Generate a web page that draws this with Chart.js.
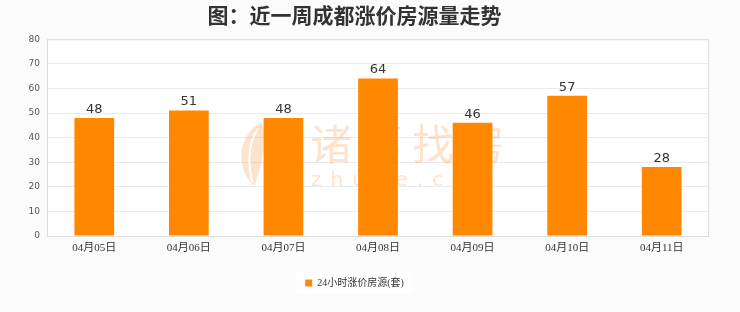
<!DOCTYPE html>
<html>
<head>
<meta charset="utf-8">
<script src="https://cdn.jsdelivr.net/npm/chart.js@4/dist/chart.umd.min.js"></script>
<style>
  html, body { margin: 0; padding: 0; background: #fbfbfb; }
  #wrap { width: 740px; height: 312px; }
</style>
</head>
<body>
<div id="wrap"><canvas id="c" width="740" height="312"></canvas></div>
<script>
// Daily count of listings with price increases, Chengdu, last week
const categories = ['04月05日', '04月06日', '04月07日', '04月08日', '04月09日', '04月10日', '04月11日'];
const risingListings = [48, 51, 48, 64, 46, 57, 28];
const seriesName = '24小时涨价房源(套)';
const chartTitle = '图：近一周成都涨价房源量走势';
const yMax = 80;
const yStep = 10;

const BAR = '#ff8800';
const MARK = 'rgba(244, 170, 105, 0.33)';

// white plot area with a light frame, faint brand mark behind the bars
const plotFrame = {
  id: 'plotFrame',
  beforeDraw(chart) {
    const { ctx, chartArea: a } = chart;
    ctx.save();
    ctx.fillStyle = '#ffffff';
    ctx.fillRect(a.left, a.top, a.right - a.left, a.bottom - a.top);
    // white strip behind the legend
    const lg = chart.legend;
    if (lg) ctx.fillRect(lg.left + lg.width / 2 - 58, lg.top + 4, 116, lg.height - 8);
    ctx.restore();
  },
  beforeDatasetsDraw(chart) {
    const { ctx } = chart;
    ctx.save();
    ctx.fillStyle = MARK;
    // feather emblem
    ctx.beginPath();
    ctx.moveTo(262, 122);
    ctx.bezierCurveTo(236, 135, 236, 170, 254, 186);
    ctx.bezierCurveTo(262, 170, 266, 140, 262, 122);
    ctx.fill();
    ctx.strokeStyle = 'rgba(255,255,255,0.8)';
    ctx.lineWidth = 1.5;
    for (let k = 0; k < 4; k++) {
      ctx.beginPath();
      ctx.moveTo(258 - k * 2, 128 + k * 4);
      ctx.quadraticCurveTo(244 + k, 152, 252, 182);
      ctx.stroke();
    }
    ctx.textAlign = 'left';
    ctx.textBaseline = 'middle';
    ctx.font = '42px "Noto Sans CJK SC"';
    ctx.letterSpacing = '9px';
    ctx.fillText('诸葛找房', 310, 144);
    ctx.font = '20px "DejaVu Sans"';
    ctx.letterSpacing = '9px';
    ctx.fillText('zhuge.com', 311, 181);
    ctx.restore();
  },
  afterDatasetsDraw(chart) {
    const { ctx, chartArea: a } = chart;
    ctx.save();
    ctx.strokeStyle = '#dddddd';
    ctx.lineWidth = 1;
    ctx.strokeRect(a.left + 0.5, a.top + 0.5, a.right - a.left - 1, a.bottom - a.top);
    // value labels above each bar
    const meta = chart.getDatasetMeta(0);
    ctx.fillStyle = '#333333';
    ctx.font = '13px "DejaVu Sans"';
    ctx.textAlign = 'center';
    ctx.textBaseline = 'bottom';
    meta.data.forEach((bar, i) => {
      ctx.fillText(String(risingListings[i]), bar.x, bar.y - 2);
    });
    ctx.restore();
  }
};

new Chart(document.getElementById('c'), {
  type: 'bar',
  data: {
    labels: categories,
    datasets: [{
      label: seriesName,
      data: risingListings,
      backgroundColor: BAR,
      borderWidth: 0,
      categoryPercentage: 1,
      barPercentage: 0.42
    }]
  },
  options: {
    responsive: false,
    animation: false,
    devicePixelRatio: 1,
    layout: { padding: { left: 0, right: 31, top: 0, bottom: 14 } },
    plugins: {
      title: {
        display: true,
        text: chartTitle,
        color: '#333333',
        font: { family: '"Noto Sans CJK SC"', size: 21, weight: 'bold' },
        padding: { top: 2, bottom: 12 }
      },
      legend: {
        position: 'bottom',
        labels: {
          boxWidth: 7,
          boxHeight: 7,
          color: '#333333',
          font: { family: '"Liberation Serif", "Noto Sans CJK SC"', size: 10 },
          padding: 10
        }
      },
      tooltip: { enabled: false }
    },
    scales: {
      x: {
        grid: { display: false, drawTicks: false },
        border: { display: true, color: '#dddddd' },
        ticks: {
          color: '#333333',
          font: { family: '"Liberation Serif", "Noto Sans CJK SC"', size: 11 },
          padding: 6,
          maxRotation: 0
        },
        afterFit(scale) { scale.height = 32; }
      },
      y: {
        min: 0,
        max: yMax,
        grid: { color: '#ebebeb', drawTicks: false },
        border: { display: true, color: '#dddddd' },
        ticks: {
          stepSize: yStep,
          color: '#555555',
          font: { family: '"DejaVu Sans"', size: 9 },
          padding: 7
        },
        afterFit(scale) { scale.width = 47; }
      }
    }
  },
  plugins: [plotFrame]
});
</script>
</body>
</html>
